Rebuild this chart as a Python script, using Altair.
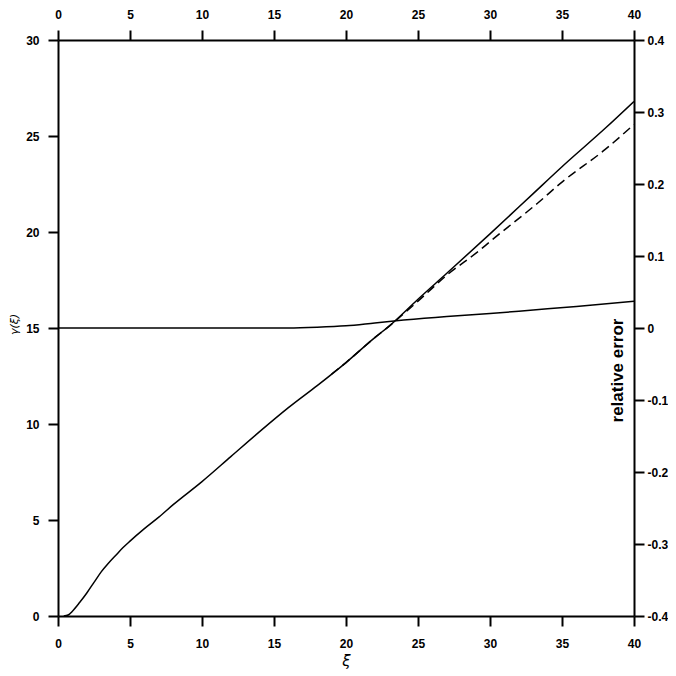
import altair as alt
import pandas as pd

# gamma(xi), solid curve
g_x = [0.4, 0.7, 1.0, 1.5, 2.0, 2.5, 3.0, 3.5, 4.0, 4.5, 5.0, 6.0, 7.0, 8.0, 10.0, 12.0, 14.0, 16.0, 18.0, 20.0, 22.0, 23.0, 25.0, 27.0, 30.0, 33.0, 35.0, 38.0, 40.0]
g_y = [0.0, 0.05, 0.25, 0.7, 1.2, 1.75, 2.3, 2.75, 3.15, 3.55, 3.9, 4.55, 5.15, 5.8, 7.0, 8.3, 9.6, 10.85, 12.0, 13.2, 14.5, 15.1, 16.5, 17.85, 19.9, 22.0, 23.4, 25.4, 26.8]

# dashed curve
d_x = [19.0, 20.0, 22.0, 23.0, 25.0, 27.0, 29.3, 30.0, 33.3, 35.0, 38.0, 40.0]
d_y = [12.6, 13.2, 14.5, 15.1, 16.4, 17.75, 19.06, 19.5, 21.5, 22.6, 24.3, 25.6]

# relative error (right axis)
e_x = [0.0, 16.0, 18.0, 20.0, 22.0, 24.0, 27.0, 30.0, 33.0, 36.0, 40.0]
e_y = [0.0, 0.0, 0.001, 0.003, 0.007, 0.011, 0.016, 0.020, 0.025, 0.030, 0.037]

x_ticks = [0, 5, 10, 15, 20, 25, 30, 35, 40]
g_ticks = [0, 5, 10, 15, 20, 25, 30]
e_ticks = [-0.4, -0.3, -0.2, -0.1, 0, 0.1, 0.2, 0.3, 0.4]

gdf = pd.DataFrame({"x": g_x, "y": g_y})
ddf = pd.DataFrame({"x": d_x, "y": d_y})
edf = pd.DataFrame({"x": e_x, "y": e_y})

FONT = "Liberation Sans"
xscale = alt.Scale(domain=[0, 40], nice=False, zero=False)
gscale = alt.Scale(domain=[0, 30], nice=False)
escale = alt.Scale(domain=[-0.4, 0.4], nice=False)

common_axis = dict(
    domainColor="black", domainWidth=2, tickColor="black", tickWidth=2, tickSize=10,
    labelFont=FONT, labelFontSize=12, labelFontWeight="bold", labelColor="black",
    labelFlush=False, labelOverlap=False, grid=False,
)

solid = alt.Chart(gdf).mark_line(color="black", strokeWidth=1.5, interpolate="monotone", clip=True).encode(
    x=alt.X("x:Q", scale=xscale, axis=alt.Axis(
        orient="bottom", values=x_ticks, title="ξ", labelPadding=12,
        titleFont="DejaVu Sans", titleFontSize=15, titleFontStyle="italic", titleFontWeight="normal",
        titleX=288, titleY=44, titleAnchor="middle", titleBaseline="middle", **common_axis)),
    y=alt.Y("y:Q", scale=gscale, axis=alt.Axis(
        orient="left", values=g_ticks, title="γ(ξ)", labelPadding=9,
        titleFont="DejaVu Sans", titleFontSize=11, titleFontStyle="italic", titleFontWeight="normal",
        titleAngle=270, titleX=-44, titleY=284, titleAlign="center", titleBaseline="middle",
        **common_axis)),
    order="x:Q",
)

dashed = alt.Chart(ddf).mark_line(color="black", strokeWidth=1.5, strokeDash=[9, 5], interpolate="monotone", clip=True).encode(
    x=alt.X("x:Q", scale=xscale, axis=None),
    y=alt.Y("y:Q", scale=gscale, axis=None),
    order="x:Q",
)

err = alt.Chart(edf).mark_line(color="black", strokeWidth=1.5, interpolate="monotone", clip=True).encode(
    x=alt.X("x:Q", scale=xscale, axis=alt.Axis(
        orient="top", values=x_ticks, title=None, labelPadding=9, **common_axis)),
    y=alt.Y("y:Q", scale=escale, axis=alt.Axis(
        orient="right", values=e_ticks, title="relative error", labelPadding=3,
        labelExpr="replace(format(datum.value, '.1~f'), '\u2212', '-')",
        titleFont=FONT, titleFontSize=17, titleFontWeight="bold",
        titleAngle=270, titleX=-17, titleY=330, titleAlign="center", titleBaseline="middle",
        **common_axis)),
    order="x:Q",
)

chart = alt.layer(solid, dashed, err).resolve_scale(y="independent").resolve_axis(
    x="independent", y="independent"
).properties(
    width=576, height=576,
    autosize=alt.AutoSizeParams(type="none"),
    padding={"left": 50, "top": 32, "right": 34, "bottom": 55},
).configure_view(stroke=None).configure(background="white")

chart.save("out.html", embed_options={"renderer": "svg", "actions": False})
